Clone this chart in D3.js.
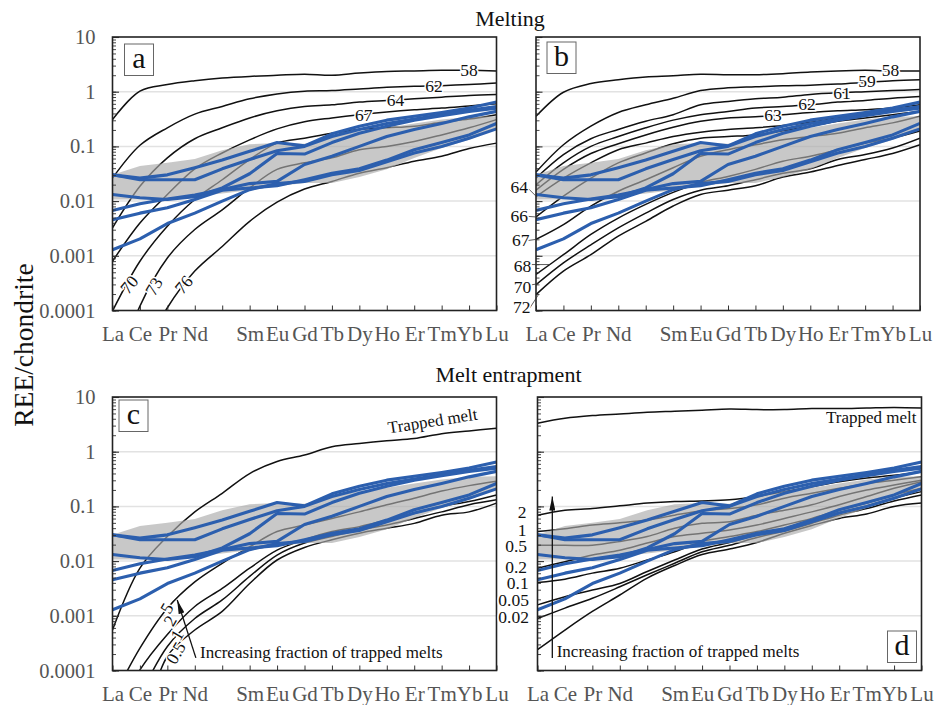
<!DOCTYPE html>
<html>
<head>
<meta charset="utf-8">
<script src="https://cdnjs.cloudflare.com/ajax/libs/d3/7.8.5/d3.min.js"></script>
<style>
  body { margin: 0; background: #fff; }
  text { font-family: "Liberation Serif", serif; }
</style>
</head>
<body>
<div class="canvas"></div>
<script>
// all curves are log10(REE/chondrite), one value per element La..Lu (Pm has no label)
const elements = ['La', 'Ce', 'Pr', 'Nd', '', 'Sm', 'Eu', 'Gd', 'Tb', 'Dy', 'Ho', 'Er', 'Tm', 'Yb', 'Lu'];
const decades = [0.0001, 0.001, 0.01, 0.1, 1, 10];

// samples, same in all four panels
const blue1 = [-1.52,-1.58,-1.52,-1.39,-1.25,-1.09,-0.93,-0.99,-0.77,-0.63,-0.52,-0.45,-0.38,-0.30,-0.19];
const blue2 = [-1.52,-1.61,-1.61,-1.61,-1.41,-1.24,-1.08,-1.00,-0.82,-0.69,-0.58,-0.50,-0.42,-0.34,-0.27];
const blue3 = [-1.88,-1.94,-1.97,-1.92,-1.76,-1.50,-1.13,-1.14,-0.93,-0.76,-0.63,-0.52,-0.44,-0.36,-0.30];
const blue4 = [-2.17,-2.05,-1.96,-1.89,-1.79,-1.68,-1.64,-1.33,-1.18,-1.00,-0.82,-0.69,-0.58,-0.46,-0.36];
const blue5 = [-2.34,-2.22,-2.12,-1.97,-1.80,-1.76,-1.72,-1.61,-1.49,-1.41,-1.25,-1.06,-0.93,-0.79,-0.58];
const blue6 = [-2.89,-2.69,-2.41,-2.22,-2.00,-1.79,-1.68,-1.64,-1.52,-1.44,-1.28,-1.12,-1.00,-0.85,-0.68];

// grey field
const bandTop = [-1.52,-1.36,-1.30,-1.23,-1.07,-0.96,-0.94,-0.95,-0.83,-0.72,-0.66,-0.58,-0.51,-0.46,-0.45];
const bandBottom = [-1.97,-1.97,-1.97,-1.91,-1.86,-1.80,-1.73,-1.67,-1.67,-1.56,-1.42,-1.21,-1.03,-0.88,-0.68];

// panel a
const a58 = [-0.51,0.01,0.13,0.20,0.25,0.28,0.30,0.32,0.30,0.34,0.37,0.38,0.39,0.39,0.38];
const a62 = [-1.58,-0.98,-0.66,-0.41,-0.27,-0.13,-0.04,0.01,0.02,0.05,0.08,0.10,0.11,0.13,0.16];
const a64 = [-2.49,-1.73,-1.21,-0.86,-0.66,-0.48,-0.35,-0.27,-0.24,-0.19,-0.16,-0.13,-0.10,-0.07,-0.05];
const a67 = [-3.10,-2.40,-1.88,-1.41,-1.12,-0.88,-0.68,-0.55,-0.48,-0.42,-0.37,-0.33,-0.30,-0.26,-0.22];
const a70 = [-4.01,-3.10,-2.46,-1.97,-1.61,-1.24,-0.94,-0.85,-0.76,-0.69,-0.66,-0.63,-0.56,-0.50,-0.42];
const a73 = [-5.32,-3.92,-3.04,-2.52,-2.16,-1.76,-1.42,-1.30,-1.21,-1.06,-1.00,-0.91,-0.79,-0.66,-0.51];
const a76 = [-5.93,-4.90,-3.95,-3.28,-2.83,-2.37,-2.02,-1.78,-1.64,-1.49,-1.39,-1.27,-1.18,-1.04,-0.94];

// panel b
const b58 = [-0.45,-0.01,0.15,0.22,0.27,0.29,0.32,0.31,0.31,0.33,0.36,0.38,0.39,0.38,0.38];
const b59 = [-1.47,-0.97,-0.63,-0.38,-0.24,-0.12,0.02,0.07,0.09,0.11,0.12,0.14,0.17,0.20,0.22];
const b61 = [-1.58,-1.15,-0.86,-0.69,-0.54,-0.42,-0.24,-0.18,-0.13,-0.10,-0.05,-0.02,0.00,0.02,0.04];
const b62 = [-1.70,-1.30,-1.00,-0.82,-0.66,-0.52,-0.42,-0.36,-0.30,-0.27,-0.24,-0.19,-0.16,-0.12,-0.09];
const b63 = [-1.80,-1.42,-1.13,-0.95,-0.79,-0.65,-0.54,-0.48,-0.46,-0.42,-0.38,-0.35,-0.33,-0.30,-0.24];
const b64 = [-1.92,-1.58,-1.30,-1.06,-0.94,-0.82,-0.74,-0.69,-0.66,-0.62,-0.56,-0.48,-0.42,-0.36,-0.30];
const b66 = [-2.29,-1.91,-1.58,-1.30,-1.12,-0.95,-0.85,-0.82,-0.79,-0.72,-0.63,-0.54,-0.48,-0.42,-0.36];
const b67 = [-2.70,-2.43,-2.09,-1.82,-1.61,-1.39,-1.18,-1.06,-0.97,-0.88,-0.82,-0.76,-0.66,-0.57,-0.45];
const b68 = [-3.34,-2.98,-2.61,-2.31,-2.06,-1.84,-1.66,-1.55,-1.42,-1.27,-1.18,-1.06,-0.94,-0.85,-0.72];
const b70 = [-3.53,-3.13,-2.80,-2.49,-2.22,-1.97,-1.80,-1.72,-1.61,-1.49,-1.41,-1.24,-1.15,-1.03,-0.85];
const b72 = [-3.71,-3.28,-2.98,-2.64,-2.37,-2.09,-1.88,-1.80,-1.72,-1.56,-1.47,-1.35,-1.24,-1.13,-0.97];

// panel c
const cTrapped = [-3.26,-2.13,-1.55,-1.10,-0.76,-0.40,-0.18,-0.06,0.09,0.15,0.20,0.24,0.33,0.38,0.43];
const c5 = [-4.53,-3.59,-2.86,-2.38,-2.04,-1.74,-1.46,-1.34,-1.22,-1.10,-0.97,-0.85,-0.72,-0.62,-0.54];
const c2 = [-5.02,-3.99,-3.34,-2.83,-2.50,-2.13,-1.80,-1.61,-1.46,-1.37,-1.25,-1.13,-1.00,-0.91,-0.79];
const c1 = [-5.63,-4.47,-3.56,-3.05,-2.71,-2.28,-1.89,-1.67,-1.55,-1.43,-1.34,-1.22,-1.10,-0.97,-0.88];
const c05 = [-6.24,-5.14,-3.74,-3.26,-2.92,-2.41,-1.98,-1.75,-1.61,-1.49,-1.40,-1.31,-1.16,-1.10,-0.94];

// panel d
const dTrapped = [0.52,0.61,0.66,0.69,0.72,0.74,0.76,0.78,0.77,0.77,0.79,0.79,0.80,0.81,0.80];
const d2 = [-1.16,-1.07,-1.04,-0.99,-0.94,-0.91,-0.90,-0.88,-0.82,-0.73,-0.64,-0.55,-0.48,-0.43,-0.37];
const d1 = [-1.46,-1.41,-1.34,-1.30,-1.25,-1.16,-1.08,-1.04,-0.97,-0.85,-0.76,-0.67,-0.58,-0.52,-0.46];
const d05 = [-1.71,-1.71,-1.71,-1.64,-1.55,-1.40,-1.31,-1.28,-1.16,-1.07,-0.97,-0.82,-0.70,-0.61,-0.52];
const d02 = [-2.13,-2.01,-1.89,-1.80,-1.67,-1.55,-1.49,-1.43,-1.34,-1.22,-1.10,-0.97,-0.82,-0.67,-0.55];
const d01 = [-2.39,-2.33,-2.22,-2.13,-1.98,-1.83,-1.64,-1.55,-1.46,-1.34,-1.22,-1.07,-0.94,-0.79,-0.67];
const d005 = [-2.80,-2.65,-2.53,-2.41,-2.19,-1.98,-1.78,-1.66,-1.52,-1.40,-1.25,-1.11,-0.99,-0.85,-0.73];
const d002 = [-3.05,-2.86,-2.68,-2.47,-2.25,-2.04,-1.83,-1.71,-1.57,-1.45,-1.31,-1.16,-1.04,-0.90,-0.79];
const d0 = [-3.62,-3.26,-2.92,-2.62,-2.31,-2.08,-1.88,-1.78,-1.66,-1.49,-1.35,-1.22,-1.14,-1.00,-0.94];

// curve labels: text, element position, log10 value, angle
const aLabels = [['58',13.0,0.39,0],['62',11.72,0.11,0],['64',10.32,-0.15,0],['67',9.16,-0.42,0],
                 ['70',0.61,-3.53,-50],['73',1.51,-3.56,-60],['76',2.6,-3.53,-50]];
const bLabels = [['58',12.92,0.39,0],['59',12.07,0.20,0],['61',11.16,-0.02,0],['62',9.88,-0.22,0],['63',8.64,-0.43,0],
                 ['64',-0.61,-1.75,0],['66',-0.61,-2.27,0],['67',-0.56,-2.72,0],['68',-0.49,-3.19,0],['70',-0.49,-3.57,0],['72',-0.52,-3.94,0]];
const cLabels = [['5',1.98,-2.86,-60],['2',2.10,-3.09,-60],['1',2.35,-3.35,-60],['0.5',2.31,-3.68,-60]];
const dLabels = [['2',-0.56,-1.11,0],['1',-0.56,-1.44,0],['0.5',-0.78,-1.72,0],['0.2',-0.78,-2.11,0],
                 ['0.1',-0.72,-2.41,0],['0.05',-0.87,-2.72,0],['0.02',-0.87,-3.02,0]];

// leaders of the panel b labels: from pos, from log, to pos, to log
const bLeaders = [[-0.30,-1.76,0,-1.91],[-0.28,-2.28,0,-2.29],[-0.28,-2.72,0,-2.70],
                  [-0.16,-3.16,0.5,-3.16],[-0.16,-3.53,0.09,-3.51],[-0.22,-3.95,0.09,-3.71]];

const blues = [blue1, blue2, blue3, blue4, blue5, blue6];

const W = 943, H = 705, pw = 384, ph = 273.5;
const BLUE = '#2c5fae', TICK = '#555';

var svg = d3.select('.canvas').append('svg').attr('width', W).attr('height', H);

svg.append('defs').append('marker')
    .attr('id', 'head')
    .attr('markerUnits', 'userSpaceOnUse')
    .attr('viewBox', '0 0 14 6')
    .attr('refX', 14).attr('refY', 3)
    .attr('markerWidth', 14).attr('markerHeight', 6)
    .attr('orient', 'auto')
    .append('path').attr('d', 'M14,3 L0,0 L0,6 Z').attr('fill', '#111');

const x = d3.scaleLinear().domain([0, 14]).range([0, pw]);
const y = d3.scaleLog().domain([0.0001, 10]).range([ph, 0]);
const yv = v => y(Math.pow(10, v));

const line = d3.line().x((d, i) => x(i)).y(d => yv(d));
const smooth = d3.line().x((d, i) => x(i)).y(d => yv(d)).curve(d3.curveCatmullRom.alpha(0.5));
const area = d3.area().x((d, i) => x(i)).y0((d, i) => yv(bandBottom[i])).y1(d => yv(d));

function drawPanel(id, px, py, curves, boxX, boxY, showY) {
    let g = svg.append('g').attr('transform', 'translate(' + px + ',' + py + ')');

    g.append('clipPath').attr('id', 'clip' + id)
        .append('rect').attr('width', pw).attr('height', ph);

    // gridlines
    g.selectAll('.grid').data(decades.slice(1, 5)).enter().append('line')
        .attr('x1', 0).attr('x2', pw)
        .attr('y1', d => y(d)).attr('y2', d => y(d))
        .attr('stroke', '#e2e2e2').attr('stroke-width', 1.5);

    let plot = g.append('g').attr('clip-path', 'url(#clip' + id + ')');

    curves.forEach(c => {
        plot.append('path').attr('d', smooth(c))
            .attr('fill', 'none').attr('stroke', '#111').attr('stroke-width', 1.5);
    });

    plot.append('path').attr('d', area(bandTop)).attr('fill', '#aaa').attr('opacity', 0.65);

    blues.forEach(c => {
        plot.append('path').attr('d', line(c))
            .attr('fill', 'none').attr('stroke', BLUE).attr('stroke-width', 3.1)
            .attr('stroke-linejoin', 'round');
    });

    // minor + major ticks on the left, all inside the frame
    let minor = g.append('g').call(d3.axisLeft(y).tickValues(y.ticks()).tickSize(-3.5).tickFormat(''));
    minor.select('.domain').remove();
    minor.selectAll('line').attr('stroke', '#333').attr('stroke-width', 0.9);

    let major = g.append('g').call(d3.axisLeft(y).tickValues(decades).tickSize(-6.5).tickPadding(17)
        .tickFormat(d => showY ? String(d) : ''));
    major.select('.domain').remove();
    major.selectAll('line').attr('stroke', '#333').attr('stroke-width', 1.1);
    major.selectAll('text').attr('font-size', 20.5).attr('fill', TICK)
        .style('font-family', '"Liberation Serif", serif');

    let bottom = g.append('g').attr('transform', 'translate(0,' + ph + ')')
        .call(d3.axisBottom(x).tickValues(d3.range(15)).tickSize(-5).tickPadding(16).tickFormat(i => elements[i]));
    bottom.select('.domain').remove();
    bottom.selectAll('line').attr('stroke', '#333');
    bottom.selectAll('text').attr('font-size', 21).attr('fill', TICK)
        .style('font-family', '"Liberation Serif", serif');

    g.append('rect').attr('width', pw).attr('height', ph)
        .attr('fill', 'none').attr('stroke', '#222').attr('stroke-width', 1.6);

    // letter box
    g.append('rect').attr('x', boxX).attr('y', boxY).attr('width', 29).attr('height', 31.5)
        .attr('fill', '#fff').attr('stroke', '#666').attr('stroke-width', 1);
    g.append('text').text(id)
        .attr('x', boxX + 14.5).attr('y', boxY + 23.5)
        .attr('text-anchor', 'middle').attr('font-size', 30).attr('fill', '#111');

    return g;
}

function curveLabels(g, labels, size) {
    labels.forEach(l => {
        let tx = x(l[1]), ty = yv(l[2]);
        g.append('text').text(l[0])
            .attr('transform', 'translate(' + tx + ',' + ty + ') rotate(' + l[3] + ')')
            .attr('dy', '0.34em')
            .attr('text-anchor', 'middle')
            .attr('font-size', size)
            .attr('fill', '#111')
            .attr('stroke', '#fff').attr('stroke-width', 3).attr('paint-order', 'stroke');
    });
}

function arrow(g, x1, v1, x2, v2) {
    g.append('line')
        .attr('x1', x(x1)).attr('y1', yv(v1))
        .attr('x2', x(x2)).attr('y2', yv(v2))
        .attr('stroke', '#111').attr('stroke-width', 1.3)
        .attr('marker-end', 'url(#head)');
}

let pa = drawPanel('a', 112.5, 37, [a58, a62, a64, a67, a70, a73, a76], 12, 7, true);
let pb = drawPanel('b', 536, 37, [b58, b59, b61, b62, b63, b64, b66, b67, b68, b70, b72], 11, 5, false);
let pc = drawPanel('c', 112.5, 397, [cTrapped, c5, c2, c1, c05], 6.5, 3, true);
let pd = drawPanel('d', 537.5, 397, [dTrapped, d2, d1, d05, d02, d01, d005, d002, d0], 350, 234, false);

curveLabels(pa, aLabels, 17.5);

bLeaders.forEach(l => {
    pb.append('line')
        .attr('x1', x(l[0])).attr('y1', yv(l[1]))
        .attr('x2', x(l[2])).attr('y2', yv(l[3]))
        .attr('stroke', '#333').attr('stroke-width', 0.8);
});
curveLabels(pb, bLabels, 17.5);

curveLabels(pc, cLabels, 17.5);
arrow(pc, 3.04, -3.77, 2.36, -2.71);
pc.append('text').text('Increasing fraction of trapped melts')
    .attr('x', x(3.19)).attr('y', yv(-3.77)).attr('font-size', 17).attr('fill', '#111');
pc.append('text').text('Trapped melt')
    .attr('transform', 'translate(' + x(11.7) + ',' + yv(0.46) + ') rotate(-9)')
    .attr('text-anchor', 'middle').attr('font-size', 17).attr('fill', '#111');

curveLabels(pd, dLabels, 17.5);
arrow(pd, 0.54, -3.77, 0.54, -0.82);
pd.append('text').text('Increasing fraction of trapped melts')
    .attr('x', x(0.70)).attr('y', yv(-3.75)).attr('font-size', 17).attr('fill', '#111');
pd.append('text').text('Trapped melt')
    .attr('x', x(13.82)).attr('y', yv(0.52))
    .attr('text-anchor', 'end').attr('font-size', 17).attr('fill', '#111');

// titles
svg.append('text').text('Melting')
    .attr('x', 510).attr('y', 26).attr('text-anchor', 'middle').attr('font-size', 22).attr('fill', '#111');
svg.append('text').text('Melt entrapment')
    .attr('x', 508.5).attr('y', 382).attr('text-anchor', 'middle').attr('font-size', 22).attr('fill', '#111');
svg.append('text').text('REE/chondrite')
    .attr('transform', 'translate(33,345) rotate(-90)')
    .attr('text-anchor', 'middle').attr('font-size', 27.5).attr('fill', '#111');
</script>
</body>
</html>
